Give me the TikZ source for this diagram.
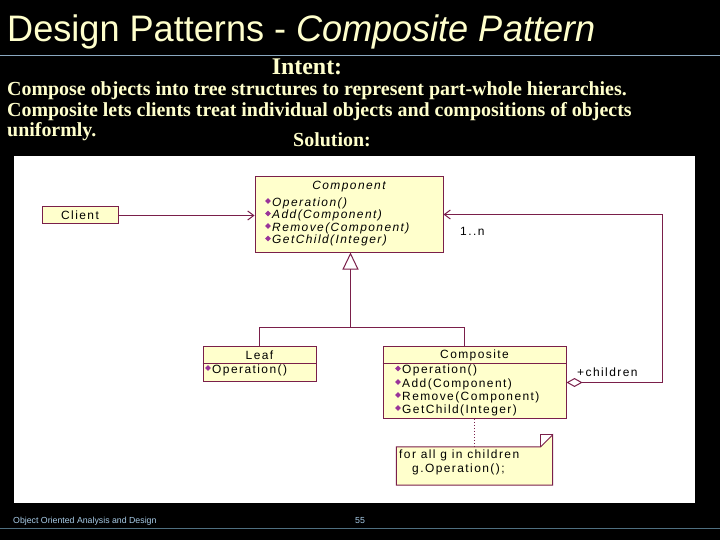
\documentclass[tikz,border=0pt]{standalone}
\usepackage{fontspec}
\usetikzlibrary{arrows.meta}
\setmainfont{Liberation Serif}
\newfontfamily\titlefont[FakeStretch=0.98]{Liberation Sans}
\newfontfamily\bodyfont{Liberation Serif}
\newfontfamily\umlfont[LetterSpace=12]{Liberation Sans}
\newfontfamily\footfont{Liberation Sans}
\definecolor{ttl}{HTML}{FFFFCC}
\definecolor{umlline}{HTML}{7A1F4A}
\definecolor{umlfill}{HTML}{FFFFCC}
\definecolor{iconc}{HTML}{993399}
\definecolor{rulea}{HTML}{8AA8C0}
\definecolor{ruleb}{HTML}{4F6F80}
\definecolor{footc}{HTML}{A8CCE8}
\tikzset{
  cls/.style={draw=umlline, fill=umlfill, line width=1bp, inner sep=0pt, rectangle},
  op/.style={anchor=west, inner sep=0pt, font=\umlfont\fontsize{12}{13}\selectfont, text=black},
  optitle/.style={anchor=center, inner sep=0pt, font=\umlfont\fontsize{12}{13}\selectfont, text=black},
  conn/.style={draw=umlline, line width=1bp},
  opicon/.pic={\fill[iconc] (0,-2.8) -- (2.8,0) -- (0,2.8) -- (-2.8,0) -- cycle;},
  bodytxt/.style={anchor=base west, inner sep=0pt, text=ttl, font=\bodyfont\bfseries\fontsize{20}{22}\selectfont}
}
\begin{document}
\begin{tikzpicture}[x=1bp,y=-1bp]
\useasboundingbox (0,0) rectangle (720,540);
\fill[black] (0,0) rectangle (720,540);
% title
\node[anchor=base west, inner sep=0pt, text=ttl, font=\titlefont\fontsize{37}{40}\selectfont] (title) at (7,42) {Design Patterns - \textit{Composite Pattern}};
\draw[rulea, line width=0.8bp] (0,55) -- (720,55);
% intent
\node[anchor=base, inner sep=0pt, text=ttl, font=\bodyfont\bfseries\fontsize{24}{26}\selectfont] (intent) at (307,75) {Intent:};
\node[bodytxt] (l1) at (7,96) {Compose objects into tree structures to represent part-whole hierarchies.};
\node[bodytxt] (l2) at (7,117) {Composite lets clients treat individual objects and compositions of objects};
\node[bodytxt] (l3) at (7,137) {uniformly.};
\node[anchor=base, inner sep=0pt, text=ttl, font=\bodyfont\bfseries\fontsize{20}{22}\selectfont] (sol) at (332,147) {Solution:};
% panel
\fill[white] (14,156) rectangle (695,503);
% classes
\node[cls, minimum width=76bp, minimum height=17bp] (client) at (80,215.5) {};
\node[optitle] at (client.center) {Client};
\node[cls, minimum width=188bp, minimum height=75bp] (comp) at (349,214.5) {};
\node[optitle] at (349,187) {\itshape Component};
\foreach \t/\yy in {Operation()/203, Add(Component)/215.5, Remove(Component)/228, GetChild(Integer)/240.5}{
  \pic at (268,\yy-2) {opicon};
  \node[op] at (272,\yy) {\itshape \t};
}
\node[cls, minimum width=113bp, minimum height=35bp] (leaf) at (259.5,363.5) {};
\draw[umlline, line width=1bp] (leaf.west |- 0,363.5) -- (leaf.east |- 0,363.5);
\node[optitle] at (259.5,355) {Leaf};
\pic at (208,368) {opicon};
\node[op] at (212,370.5) {Operation()};
\node[cls, minimum width=183bp, minimum height=72bp] (composite) at (474.5,382.5) {};
\draw[umlline, line width=1bp] (composite.west |- 0,363.5) -- (composite.east |- 0,363.5);
\node[optitle] at (474.5,355) {Composite};
\foreach \t/\yy in {Operation()/370.5, Add(Component)/384, Remove(Component)/397, GetChild(Integer)/410}{
  \pic at (398,\yy-2) {opicon};
  \node[op] at (402,\yy) {\t};
}
% note
\node[minimum width=156bp, minimum height=38bp, inner sep=0pt] (note) at (474.5,466) {};
\draw[umlline, line width=1bp, fill=umlfill] (note.north west) -- ([xshift=-12bp]note.north east) -- ([yshift=12bp]note.north east) -- (note.south east) -- (note.south west) -- cycle;
\draw[umlline, line width=1bp] ([xshift=-12bp]note.north east) -- ([xshift=-12bp,yshift=12bp]note.north east) -- ([yshift=12bp]note.north east);
\node[op] at (399,455) {for all g in children};
\node[op] at (412,469) {g.Operation();};
% connectors
\draw[conn, -{Straight Barb[length=6bp,width=9bp]}] (client.east) -- (client.east -| comp.west);
\coordinate (junc) at (350.5,327.5);
\draw[conn] (leaf.north) |- (junc) -| ([xshift=-10bp]composite.north);
\draw[conn, -{Triangle[open,length=17bp,width=16bp]}] (junc) -- (junc |- comp.south);
\coordinate (agg1) at (662.5,382.5);
\coordinate (agg2) at (662.5,214.5);
\draw[conn, {Diamond[open,length=16bp,width=9bp]}-{Straight Barb[length=6bp,width=9bp]}] (composite.east) -- (agg1) -- (agg2) -- (agg2 -| comp.east);
\draw[conn, dotted] (composite.south) -- (note.north);
\node[op] (mult) at (460,231) {1..n};
\node[op] (role) at (577,372) {+children};
% footer
\node[anchor=base west, inner sep=0pt, text=footc, font=\footfont\fontsize{8.8}{10}\selectfont] (foot) at (13,523) {Object Oriented Analysis and Design};
\node[anchor=base, inner sep=0pt, text=footc, font=\footfont\fontsize{8.8}{10}\selectfont] (page) at (360,523) {55};
\draw[ruleb, line width=1bp] (0,528) -- (720,528);
\end{tikzpicture}
\end{document}
